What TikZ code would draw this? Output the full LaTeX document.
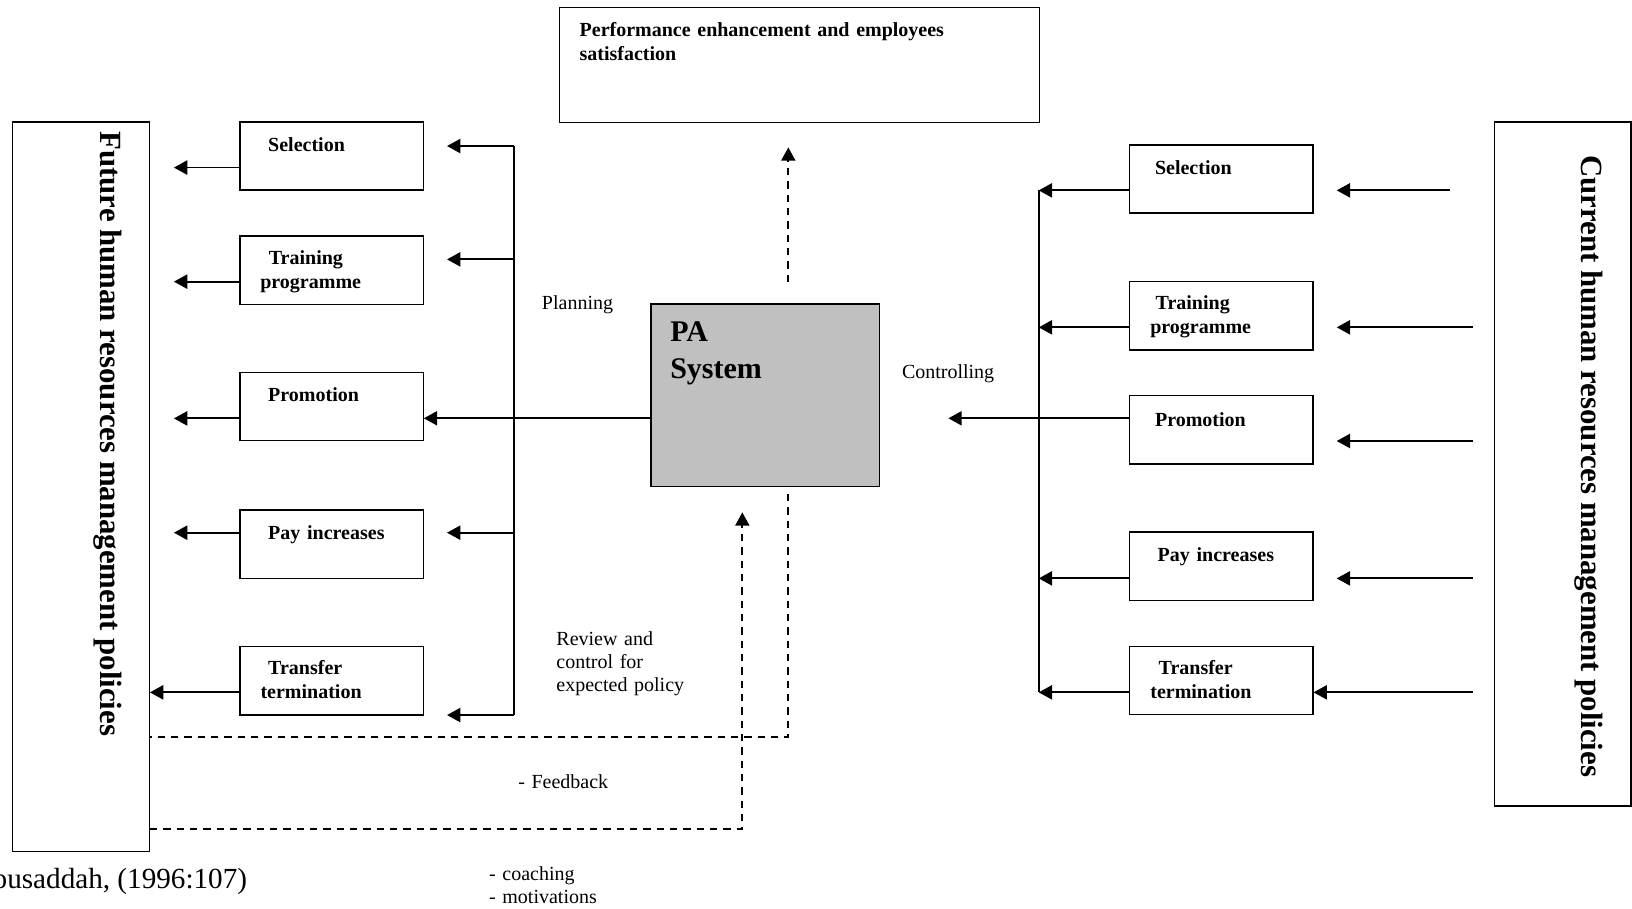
\documentclass[tikz,border=0pt]{standalone}
\usepackage{fontspec}
\setmainfont{Liberation Serif}
\usetikzlibrary{arrows.meta}

\definecolor{pagray}{RGB}{192,192,192}

\tikzset{
  box/.style={draw, line width=0.8pt, inner sep=0pt},
  smallbox/.style={box, minimum width=109.9pt, minimum height=40.9pt},
  boxtext/.style={anchor=base west, inner sep=0pt, text width=110pt, align=left, font=\fontsize{12}{14}\selectfont\bfseries},
  normtext/.style={anchor=base west, inner sep=0pt, text width=120pt, align=left, font=\fontsize{12}{14}\selectfont},
  sidetext/.style={anchor=base west, inner sep=0pt, rotate=-90, font=\fontsize{18.5}{22}\selectfont\bfseries},
  arr/.style={-{Triangle[length=8pt,width=8.5pt]}, line width=1.1pt},
  fbline/.style={line width=1pt, dash pattern=on 4.5pt off 3.5pt}
}

\begin{document}
\begin{tikzpicture}[x=0.6245pt, y=-0.6245pt]
        \useasboundingbox (0,0) rectangle (1568,873);

        % Main boxes
        \node[box, minimum width=82.2pt, minimum height=437.8pt] (fut) at (77.6,467.8) {};
        \node[box, minimum width=82pt, minimum height=410.4pt] (cur) at (1501.3,445.8) {};
        \node[box, minimum width=288pt, minimum height=68.8pt] (perf) at (768,62.5) {};
        \node[box, fill=pagray, minimum width=137pt, minimum height=109.7pt] (pa) at (735.2,379.8) {};

        % Left boxes
        \node[smallbox] (selL) at (318.6,149.9) {};
        \node[smallbox] (trnL) at (318.6,259.5) {};
        \node[smallbox] (proL) at (318.6,390.7) {};
        \node[smallbox] (payL) at (318.6,522.8) {};
        \node[smallbox] (traL) at (318.6,654.2) {};

        % Right boxes
        \node[smallbox] (selR) at (1173.4,171.9) {};
        \node[smallbox] (trnR) at (1173.4,303.5) {};
        \node[smallbox] (proR) at (1173.4,413) {};
        \node[smallbox] (payR) at (1173.4,544) {};
        \node[smallbox] (traR) at (1173.4,653.9) {};

        % Texts
        \node[sidetext] (futT) at (96.8,126) {Future human resources management policies};
        \node[sidetext] (curT) at (1519.7,149) {Current human resources management policies};
        \node[boxtext, text width=280pt, font=\fontsize{12}{14.6}\selectfont\bfseries] (perfT) at (556.6,35.2) {Performance enhancement and employees\\satisfaction};
        \node[boxtext, font=\fontsize{18}{22}\selectfont\bfseries] (paT) at (643.7,328.3) {PA\\System};

        \node[boxtext] (selLT) at (257.4,145.7) {Selection};
        \node[boxtext] (trnLT) at (249.8,254.6) {\hspace*{5.1pt}Training\\programme};
        \node[boxtext] (proLT) at (257.4,386) {Promotion};
        \node[boxtext] (payLT) at (257.4,518.8) {Pay increases};
        \node[boxtext] (traLT) at (250,648.5) {\hspace*{4.6pt}Transfer\\termination};

        \node[boxtext] (selRT) at (1109.4,168.1) {Selection};
        \node[boxtext] (trnRT) at (1104.9,297.8) {\hspace*{3.2pt}Training\\programme};
        \node[boxtext] (proRT) at (1109.4,409.3) {Promotion};
        \node[boxtext] (payRT) at (1112,539.6) {Pay increases};
        \node[boxtext] (traRT) at (1104.9,648.5) {\hspace*{5pt}Transfer\\termination};

        \node[normtext] (plan) at (520.4,297.8) {Planning};
        \node[normtext] (ctrl) at (866.3,363.5) {Controlling};
        \node[normtext] (review) at (534.3,619.7) {Review and\\control for\\expected policy};
        \node[normtext] (feed) at (497.6,757.4) {- Feedback};
        \node[normtext] (coach) at (469.6,845.5) {- coaching\\- motivations};
        \node[anchor=base east, inner sep=0pt, font=\fontsize{17.5}{20}\selectfont] (cite) at (237.7,853.5) {ousaddah, (1996:107)};

        % Left side: boxes to future policies
        \draw[arr, shorten >=14.4pt] (selL.west |- 0,161) -- (fut.east |- 0,161);
        \draw[arr, shorten >=14.4pt] (trnL.west |- 0,270.6) -- (fut.east |- 0,270.6);
        \draw[arr, shorten >=14.4pt] (proL.west |- 0,402) -- (fut.east |- 0,402);
        \draw[arr, shorten >=14.4pt] (payL.west |- 0,511.8) -- (fut.east |- 0,511.8);
        \draw[arr] (traL.west |- 0,665.2) -- (fut.east |- 0,665.2);

        % Planning bus
        \coordinate (busL) at (494.1,0);
        \draw[line width=1.1pt] (busL |- 0,140.3) -- (busL |- 0,687);
        \draw[arr, shorten >=13.9pt] (busL |- 0,140.3) -- (selL.east |- 0,140.3);
        \draw[arr, shorten >=13.9pt] (busL |- 0,249.2) -- (trnL.east |- 0,249.2);
        \draw[arr] (pa.west |- 0,401.9) -- (proL.east |- 0,401.9);
        \draw[arr, shorten >=13.9pt] (busL |- 0,511.8) -- (payL.east |- 0,511.8);
        \draw[arr, shorten >=13.9pt] (busL |- 0,687) -- (traL.east |- 0,687);

        % Controlling bus
        \coordinate (busR) at (998,0);
        \coordinate (ctlEnd) at (911.2,401.9);
        \draw[line width=1.1pt] (busR |- 0,182.9) -- (busR |- 0,665.2);
        \draw[arr] (selR.west |- 0,182.9) -- (busR |- 0,182.9);
        \draw[arr] (trnR.west |- 0,314.5) -- (busR |- 0,314.5);
        \draw[arr] (proR.west |- 0,401.9) -- (ctlEnd);
        \draw[arr] (payR.west |- 0,555.7) -- (busR |- 0,555.7);
        \draw[arr] (traR.west |- 0,665.2) -- (busR |- 0,665.2);

        % Current policies to boxes
        \draw[arr, shorten <=26.4pt, shorten >=13.9pt] (cur.west |- 0,182.9) -- (selR.east |- 0,182.9);
        \draw[arr, shorten <=12.4pt, shorten >=13.9pt] (cur.west |- 0,314.5) -- (trnR.east |- 0,314.5);
        \draw[arr, shorten <=12.4pt, shorten >=13.9pt] (cur.west |- 0,423.7) -- (proR.east |- 0,423.7);
        \draw[arr, shorten <=12.4pt, shorten >=13.9pt] (cur.west |- 0,555.7) -- (payR.east |- 0,555.7);
        \draw[arr, shorten <=12.4pt] (cur.west |- 0,665.2) -- (traR.east |- 0,665.2);

        % Dashed links
        \draw[fbline, arr, line width=1pt, shorten <=12.7pt, shorten >=14.6pt] (pa.north -| 757.4,0) -- (perf.south -| 757.4,0);
        \coordinate (fbA) at (757.4,708.4);
        \coordinate (fbB) at (713.2,796.5);
        \draw[fbline, shorten <=3.9pt] (pa.south -| 757.4,0) -- (fbA) -- (fut.east |- fbA);
        \draw[fbline, arr, line width=1pt, shorten >=15pt] (fut.east |- fbB) -- (fbB) -- (pa.south -| fbB);
    \end{tikzpicture}
\end{document}
